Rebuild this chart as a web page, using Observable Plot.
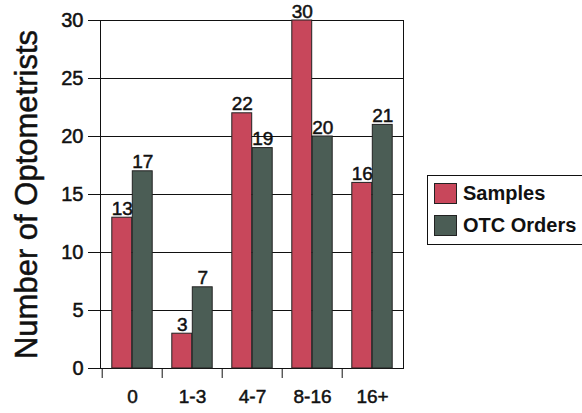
<!DOCTYPE html>
<html>
<head>
<meta charset="utf-8">
<script src="https://cdn.jsdelivr.net/npm/d3@7"></script>
<script src="https://cdn.jsdelivr.net/npm/@observablehq/plot@0.6"></script>
<style>
  html, body { margin: 0; padding: 0; background: #fff; overflow: hidden; }
  #wrap { position: relative; width: 582px; height: 413px; font-family: Arial, "Liberation Sans", sans-serif; }
  #wrap svg text { stroke: #111; stroke-width: 0.5px; }
  #legend {
    position: absolute; left: 427px; top: 175px; width: 180px; height: 70px;
    border: 1.5px solid #111; background: #fff; box-sizing: border-box;
  }
  .item { position: absolute; left: 6px; display: flex; align-items: center; font-weight: bold; font-size: 20px; color: #111; }
  .sw { width: 23px; height: 21px; border: 1px solid #222; box-sizing: border-box; margin-right: 6px; }
</style>
</head>
<body>
<div id="wrap"></div>
<script>
// Visit-frequency groups and counts of optometrists per series
const categories = ["0", "1-3", "4-7", "8-16", "16+"];
const samples = [13, 3, 22, 30, 16];
const otcOrders = [17, 7, 19, 20, 21];
const seriesNames = ["Samples", "OTC Orders"];
const seriesColors = ["#c8475b", "#4b5d55"];
const yTicks = [0, 5, 10, 15, 20, 25, 30];

const rowsA = categories.map((c, i) => ({cat: c, value: samples[i]}));
const rowsB = categories.map((c, i) => ({cat: c, value: otcOrders[i]}));

const font = "Arial, 'Liberation Sans', sans-serif";

const chart = Plot.plot({
  width: 582,
  height: 413,
  marginLeft: 100,
  marginRight: 179,
  marginTop: 20,
  marginBottom: 45,
  style: {fontFamily: font, background: "transparent", color: "#111"},
  x: {domain: categories, padding: 0, axis: null},
  y: {domain: [0, 30], axis: null},
  marks: [
    Plot.ruleY(yTicks, {stroke: "#111", strokeWidth: 1}),
    Plot.frame({stroke: "#111", strokeWidth: 1}),
    // y axis ticks and labels
    Plot.axisY({ticks: yTicks, tickSize: 12, tickPadding: 5, fontSize: 20, label: null, stroke: "#111"}),
    // category separators below the baseline
    Plot.axisX({tickSize: 10, dx: -30.3, tickFormat: () => "", label: null, stroke: "#111"}),
    // category labels
    Plot.axisX({tickSize: 0, tickPadding: 21, fontSize: 19, label: null}),
    Plot.barY(rowsA, {x: "cat", y: "value", fill: seriesColors[0], stroke: "#222", strokeWidth: 1, insetLeft: 9.8, insetRight: 30.3}),
    Plot.barY(rowsB, {x: "cat", y: "value", fill: seriesColors[1], stroke: "#222", strokeWidth: 1, insetLeft: 30.3, insetRight: 9.8}),
    Plot.text(rowsA, {x: "cat", y: "value", text: d => String(d.value), dx: -10.25, dy: -3, lineAnchor: "bottom", fontSize: 19, fill: "#111"}),
    Plot.text(rowsB, {x: "cat", y: "value", text: d => String(d.value), dx: 10.25, dy: -3, lineAnchor: "bottom", fontSize: 19, fill: "#111"}),
    Plot.text(["Number of Optometrists"], {frameAnchor: "left", rotate: -90, dx: -73, fontSize: 31, textAnchor: "middle", fill: "#111"})
  ]
});

const wrap = document.getElementById("wrap");
wrap.appendChild(chart);

const legend = document.createElement("div");
legend.id = "legend";
seriesNames.forEach((name, i) => {
  const item = document.createElement("div");
  item.className = "item";
  item.style.top = (i === 0 ? 6 : 38) + "px";
  const sw = document.createElement("div");
  sw.className = "sw";
  sw.style.background = seriesColors[i];
  item.appendChild(sw);
  item.appendChild(document.createTextNode(name));
  legend.appendChild(item);
});
wrap.appendChild(legend);
</script>
</body>
</html>
